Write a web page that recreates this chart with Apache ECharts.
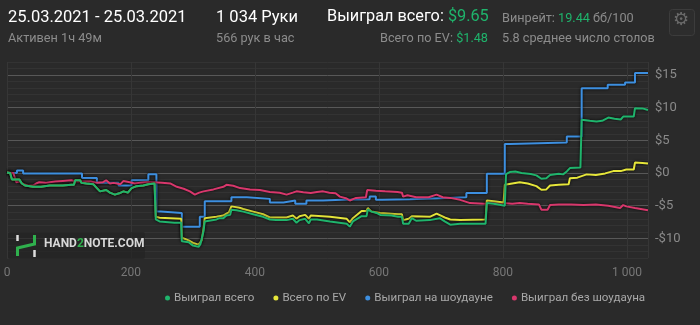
<!DOCTYPE html>
<html><head><meta charset="utf-8">
<script src="https://cdn.jsdelivr.net/npm/echarts@6/dist/echarts.min.js"></script>
<style>html,body{margin:0;padding:0;background:#2a2a2a;}#c{width:700px;height:325px;}</style>
</head><body><div id="c"></div>
<script>
// ---- data ----
const seriesNames = ['Выиграл всего', 'Всего по EV', 'Выиграл на шоудауне', 'Выиграл без шоудауна'];
const xTicks = [0, 200, 400, 600, 800, 1000];
const yTicks = [-10, -5, 0, 5, 10, 15];

const wonTotal = [[0,0.1],[5,0.0],[8,-1.0],[20,-1.0],[24,-1.6],[29,-1.9],[42,-2.1],[55,-2.1],[69,-1.9],[90,-1.9],[104,-1.8],[108,-1.8],[110,-1.1],[118,-1.1],[120,-1.5],[128,-1.6],[139,-1.7],[145,-2.3],[150,-2.8],[160,-2.6],[166,-3.0],[174,-3.3],[181,-3.1],[188,-2.8],[195,-3.0],[201,-2.3],[209,-2.0],[220,-1.9],[228,-1.7],[238,-1.6],[240,-7.1],[246,-7.4],[270,-7.6],[281,-7.6],[282,-10.45],[293,-10.6],[300,-11.1],[309,-11.3],[312,-10.9],[317,-8.9],[319,-7.4],[322,-7.3],[338,-7.1],[343,-6.9],[349,-6.9],[354,-6.5],[360,-6.4],[362,-5.6],[370,-5.7],[381,-5.9],[397,-6.3],[413,-6.7],[424,-7.1],[434,-7.2],[451,-7.2],[461,-7.0],[467,-7.6],[472,-7.2],[481,-7.0],[487,-7.7],[490,-7.1],[500,-7.1],[521,-7.4],[548,-7.75],[553,-8.2],[558,-7.4],[572,-6.6],[580,-6.6],[582,-5.6],[588,-5.9],[596,-6.1],[602,-6.4],[620,-6.5],[631,-6.7],[637,-6.7],[639,-7.75],[648,-7.75],[653,-6.9],[660,-7.3],[682,-7.2],[698,-6.9],[706,-7.4],[715,-7.9],[731,-7.75],[772,-7.75],[774,-4.6],[785,-4.7],[803,-5.0],[805,-0.15],[811,0.15],[820,0.25],[830,0.0],[845,-0.15],[854,-0.35],[862,-0.87],[870,-0.8],[876,-0.3],[890,-0.1],[897,-0.2],[903,0.25],[908,0.76],[925,0.85],[927,8.15],[940,8.0],[951,7.9],[960,8.0],[970,8.5],[980,8.3],[990,8.2],[994,8.65],[1011,8.65],[1013,9.93],[1025,9.9],[1034,9.65]];

const evTotal = [[0,0.1],[5,0.0],[8,-1.0],[20,-1.0],[24,-1.6],[29,-1.9],[42,-2.1],[55,-2.1],[69,-1.9],[90,-1.9],[104,-1.8],[108,-1.8],[110,-1.1],[118,-1.1],[120,-1.5],[128,-1.6],[139,-1.7],[145,-2.3],[150,-2.8],[160,-2.6],[166,-3.0],[174,-3.3],[181,-3.1],[188,-2.8],[195,-3.0],[201,-2.3],[209,-2.0],[220,-1.9],[228,-1.7],[238,-1.6],[240,-6.7],[246,-6.85],[281,-7.0],[282,-9.9],[293,-10.3],[300,-10.7],[309,-10.95],[314,-10.3],[317,-8.5],[319,-6.9],[338,-6.7],[349,-6.5],[354,-6.2],[358,-6.0],[360,-5.9],[362,-5.1],[375,-5.3],[381,-5.5],[397,-5.9],[413,-6.3],[424,-6.8],[451,-6.8],[461,-6.5],[467,-7.0],[472,-6.6],[481,-6.4],[487,-7.0],[490,-6.5],[521,-6.7],[548,-7.0],[553,-7.55],[558,-6.9],[572,-5.8],[580,-5.8],[582,-5.35],[588,-5.9],[602,-6.1],[631,-6.3],[637,-6.3],[639,-7.2],[648,-7.0],[653,-6.6],[682,-6.7],[693,-6.2],[706,-6.8],[715,-7.1],[731,-7.2],[772,-7.1],[774,-4.2],[785,-4.3],[801,-4.5],[803,-1.8],[815,-1.6],[827,-1.4],[840,-1.6],[854,-2.0],[862,-2.55],[870,-2.5],[876,-1.9],[890,-1.8],[906,-1.7],[908,-0.8],[920,-0.7],[935,-0.2],[950,-0.3],[965,-0.05],[978,0.3],[990,0.3],[999,0.55],[1011,0.55],[1013,1.6],[1025,1.55],[1034,1.45]];

const wonShowdown = [[0,0],[16,0.4],[26,-0.05],[121,-0.77],[145,-1.5],[180,-1.9],[201,-1.1],[228,-0.2],[241,-5.87],[248,-6.1],[282,-8.2],[311,-6.7],[319,-4.3],[362,-3.7],[387,-3.95],[424,-4.5],[446,-4.2],[465,-4.7],[483,-4.2],[510,-4.1],[540,-4.0],[585,-3.6],[595,-4.1],[605,-4.0],[650,-3.7],[741,-3.06],[774,-0.1],[803,4.43],[812,4.68],[903,5.6],[927,13.0],[969,13.5],[997,13.85],[1013,15.3],[1034,15.25]];

const wonNoShowdown = [[0,0.1],[10,0.0],[13,0.0],[15,-1.4],[20,-1.3],[25,-1.6],[33,-1.9],[42,-1.9],[47,-1.6],[52,-1.4],[62,-1.5],[69,-1.4],[78,-1.3],[90,-1.2],[104,-1.1],[110,-1.3],[135,-1.3],[145,-1.5],[155,-1.4],[160,-1.1],[166,-1.6],[172,-1.5],[183,-1.7],[188,-1.2],[198,-1.4],[206,-1.6],[215,-1.5],[225,-1.4],[236,-1.4],[250,-1.5],[264,-1.6],[274,-2.1],[285,-2.4],[295,-2.8],[303,-3.3],[310,-3.0],[317,-2.8],[333,-2.5],[349,-2.1],[354,-1.8],[365,-1.95],[376,-2.3],[392,-2.5],[408,-2.6],[424,-2.9],[440,-3.0],[451,-3.3],[461,-3.0],[467,-2.8],[478,-2.95],[490,-3.05],[500,-2.9],[510,-2.8],[520,-3.0],[530,-3.1],[537,-3.6],[548,-3.9],[553,-4.2],[563,-3.8],[579,-3.7],[581,-2.6],[595,-2.7],[610,-2.8],[630,-2.9],[637,-3.0],[639,-3.6],[646,-3.4],[660,-3.7],[680,-3.7],[693,-3.3],[703,-3.7],[715,-3.8],[731,-4.1],[747,-4.6],[770,-4.7],[783,-4.6],[800,-4.6],[815,-4.7],[827,-4.6],[840,-4.7],[858,-4.8],[862,-5.6],[872,-5.6],[876,-4.9],[890,-4.8],[910,-4.8],[930,-4.9],[950,-4.8],[970,-5.0],[989,-5.35],[994,-4.9],[999,-5.1],[1013,-5.35],[1034,-5.7]];

const colors = ['#1fb46c', '#e6e63a', '#3d8fe0', '#d8376c'];

// ---- chart ----
const chart = echarts.init(document.getElementById('c'), null, {renderer: 'canvas'});
const F = 'Roboto, "Noto Sans", sans-serif';
function fmtThousands(v) {
  return String(v).replace(/\B(?=(\d{3})+(?!\d))/g, ' ');
}
function mkSeries(name, data, color, z, step) {
  return {
    name: name, type: 'line', data: data, step: step, showSymbol: false, symbol: 'circle',
    z: z, animation: false,
    lineStyle: {color: color, width: 2, shadowColor: 'rgba(0,0,0,0.9)', shadowBlur: 3},
    itemStyle: {color: color}
  };
}
const minorC = '#333333', majorC = '#585858';
const option = {
  backgroundColor: '#2a2a2a',
  animation: false,
  grid: {left: 7, right: 52, top: 62, height: 196},
  xAxis: {
    type: 'value', min: 0, max: 1034, interval: 200,
    axisLine: {show: false}, axisTick: {show: false},
    splitLine: {show: true, lineStyle: {color: '#363636', width: 1}},
    axisLabel: {color: '#777', fontSize: 12, fontFamily: F, margin: 9, showMaxLabel: false,
      formatter: v => xTicks.includes(v) ? fmtThousands(v) : ''}
  },
  yAxis: {
    type: 'value', position: 'right', min: -13, max: 17, interval: 1,
    axisLine: {show: false}, axisTick: {show: false},
    splitLine: {show: true, lineStyle: {color: [minorC, minorC, minorC, majorC, minorC], width: 1}},
    axisLabel: {color: '#8a8a8a', fontSize: 13, fontFamily: F, margin: 7, interval: 0,
      formatter: v => yTicks.includes(v) ? (v < 0 ? '-$' + (-v) : '$' + v) : ''}
  },
  legend: {
    bottom: 16, left: 160, icon: 'circle', itemWidth: 5, itemHeight: 5, itemGap: 19,
    data: seriesNames,
    textStyle: {color: '#a8a8a8', fontSize: 11.6, fontFamily: F, padding: [0, 0, 0, -1]}
  },
  series: [
    mkSeries(seriesNames[2], wonShowdown, colors[2], 2, 'end'),
    mkSeries(seriesNames[3], wonNoShowdown, colors[3], 3, false),
    mkSeries(seriesNames[1], evTotal, colors[1], 4, false),
    mkSeries(seriesNames[0], wonTotal, colors[0], 5, false)
  ],
  graphic: [
    {type: 'text', left: 8, top: 9, style: {text: '25.03.2021 - 25.03.2021', fill: '#ffffff', font: '16.5px ' + F}},
    {type: 'text', left: 8, top: 32, style: {text: 'Активен 1ч 49м', fill: '#8c8c8c', font: '12.7px ' + F}},
    {type: 'text', left: 216, top: 9, style: {text: '1 034 Руки', fill: '#ffffff', font: '16.5px ' + F}},
    {type: 'text', left: 216, top: 32, style: {text: '566 рук в час', fill: '#8c8c8c', font: '12.7px ' + F}},
    {type: 'text', left: 327, top: 9, style: {
      rich: {a: {fill: '#ffffff', font: '16.3px ' + F}, b: {fill: '#1fb46c', font: '16.3px ' + F}},
      text: '{a|Выиграл всего: }{b|$9.65}'}},
    {type: 'text', right: 212, top: 32, style: {
      rich: {a: {fill: '#8c8c8c', font: '12.7px ' + F}, b: {fill: '#1fb46c', font: '12.7px ' + F}},
      text: '{a|Всего по EV: }{b|$1.48}'}},
    {type: 'text', left: 502, top: 12, style: {
      rich: {a: {fill: '#8c8c8c', font: '12.7px ' + F}, b: {fill: '#1fb46c', font: '12.7px ' + F}},
      text: '{a|Винрейт: }{b|19.44}{a| бб/100}'}},
    {type: 'text', left: 502, top: 32, style: {text: '5.8 среднее число столов', fill: '#8c8c8c', font: '12.7px ' + F}},
    {type: 'rect', left: 669, top: 9, shape: {width: 25, height: 26, r: 3}, style: {fill: '#2d2d2d', stroke: '#3c3c3c', lineWidth: 1}},
    {type: 'text', left: 673, top: 11, style: {text: '⚙', fill: '#6a6a6a', font: '18px "DejaVu Sans"'}},
    // watermark
    {type: 'rect', left: 8, top: 232, shape: {width: 137, height: 27, r: 2}, style: {fill: 'rgba(36,36,36,0.7)'}, z: 20},
    {type: 'line', shape: {x1: 17.5, y1: 235, x2: 17.5, y2: 241}, style: {stroke: '#dddddd', lineWidth: 2.5}, z: 21},
    {type: 'line', shape: {x1: 34.5, y1: 250, x2: 34.5, y2: 257}, style: {stroke: '#dddddd', lineWidth: 2.5}, z: 21},
    {type: 'polyline', shape: {points: [[17.5, 256], [17.5, 248], [34.5, 244], [34.5, 235]]}, style: {stroke: '#2fb04d', lineWidth: 3, fill: null}, z: 21},
    {type: 'text', left: 44, top: 238, z: 21, style: {
      rich: {a: {fill: '#d8d8d8', font: 'bold 12px ' + F}, b: {fill: '#2fb04d', font: 'bold 12px ' + F}},
      text: '{a|HAND}{b|2}{a|NOTE.COM}'}}
  ]
};
chart.setOption(option);
</script></body></html>
